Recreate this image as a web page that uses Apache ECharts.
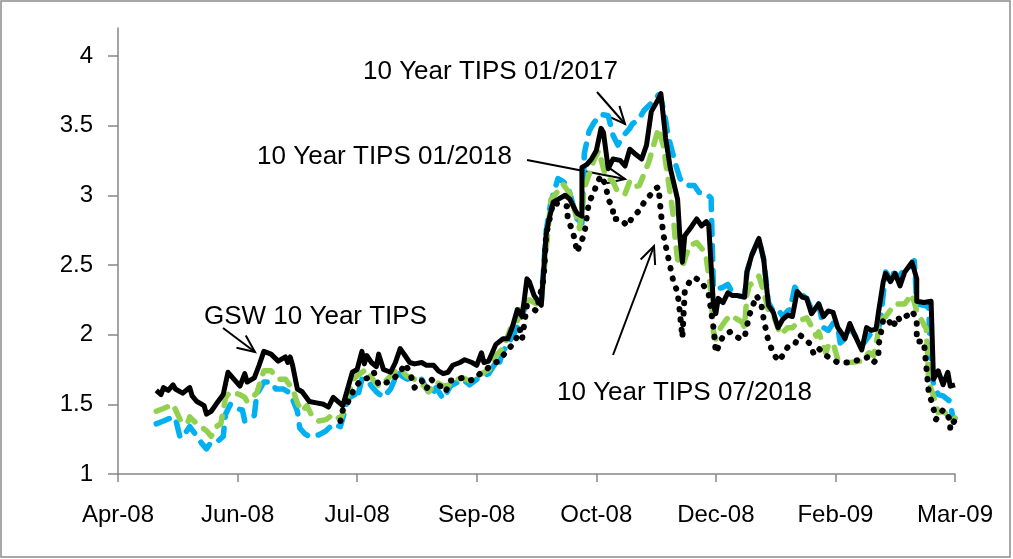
<!DOCTYPE html>
<html>
<head>
<meta charset="utf-8">
<script src="https://cdn.jsdelivr.net/npm/echarts@6/dist/echarts.min.js"></script>
<style>
  html, body { margin: 0; padding: 0; background: #fff; }
  #chart { width: 1013px; height: 559px; }
</style>
</head>
<body>
<div id="chart"></div>
<script>
// x = days counted from 12 Apr 2008, one tick every 50 days
var tickLabels = ['Apr-08', 'Jun-08', 'Jul-08', 'Sep-08', 'Oct-08', 'Dec-08', 'Feb-09', 'Mar-09'];
var yTicks = [1, 1.5, 2, 2.5, 3, 3.5, 4];

// GSW 10 Year TIPS (black solid)
var gswTips = [
  [16,1.60],[18,1.57],[19,1.62],[21,1.60],[23,1.64],[24,1.61],[27,1.58],[30,1.62],[31,1.56],[33,1.52],
  [36,1.49],[37,1.43],[39,1.45],[41,1.50],[44,1.57],[46,1.73],[48,1.69],[51,1.63],[53,1.72],[54,1.66],
  [57,1.69],[59,1.78],[61,1.88],[64,1.86],[67,1.81],[70,1.84],[71,1.80],[72,1.84],[73,1.78],[75,1.61],
  [77,1.59],[80,1.52],[83,1.51],[86,1.50],[88,1.48],[90,1.55],[92,1.52],[94,1.49],[96,1.61],[98,1.73],
  [100,1.75],[102,1.88],[103,1.79],[104,1.85],[106,1.80],[108,1.77],[109,1.86],[111,1.75],[114,1.73],[116,1.80],
  [118,1.90],[120,1.85],[122,1.80],[124,1.79],[127,1.80],[129,1.78],[132,1.78],[134,1.74],[136,1.72],[138,1.73],
  [140,1.78],[143,1.80],[145,1.82],[148,1.80],[150,1.78],[152,1.87],[153,1.80],[155,1.81],[158,1.93],[161,1.97],
  [163,1.97],[165,2.06],[167,2.18],[169,2.13],[171,2.40],[172,2.38],[174,2.28],[177,2.21],[179,2.71],[180,2.81],
  [182,2.95],[184,2.97],[187,3.00],[189,2.97],[191,2.90],[192,2.87],[194,2.85],[194,3.20],[196,3.22],[198,3.26],
  [200,3.32],[202,3.48],[203,3.45],[205,3.19],[207,3.26],[210,3.25],[212,3.21],[214,3.33],[216,3.30],[219,3.26],
  [221,3.36],[223,3.60],[226,3.69],[227,3.73],[229,3.41],[231,3.19],[234,2.97],[235,2.69],[236,2.52],[237,2.71],
  [240,2.78],[242,2.83],[244,2.78],[246,2.81],[247,2.79],[249,2.21],[250,2.15],[251,2.26],[253,2.23],[255,2.30],
  [257,2.28],[259,2.28],[262,2.27],[263,2.45],[265,2.57],[268,2.69],[270,2.54],[272,2.21],[274,2.16],[276,2.05],
  [278,2.11],[280,2.14],[282,2.13],[284,2.31],[286,2.27],[288,2.26],[290,2.15],[293,2.22],[295,2.13],[297,2.17],
  [299,2.16],[301,2.05],[303,2.00],[304,1.97],[306,2.08],[308,2.00],[311,1.89],[313,2.05],[315,2.03],[317,2.04],
  [318,2.16],[320,2.38],[321,2.44],[323,2.38],[325,2.44],[327,2.35],[329,2.45],[332,2.52],[334,2.40],[334,2.24],
  [337,2.23],[340,2.24],[341,1.68],[343,1.74],[345,1.64],[347,1.73],[348,1.63],[350,1.64]
];

// 10 Year TIPS 01/2017 (blue dashed)
var tips2017 = [
  [16,1.36],[19,1.38],[23,1.41],[24,1.40],[26,1.26],[28,1.29],[30,1.34],[33,1.27],[35,1.22],[37,1.18],
  [39,1.23],[42,1.24],[44,1.27],[45,1.43],[47,1.50],[49,1.47],[52,1.46],[53,1.38],[55,1.40],[57,1.42],
  [58,1.57],[61,1.66],[64,1.66],[66,1.61],[69,1.61],[72,1.58],[75,1.45],[76,1.33],[78,1.29],[80,1.27],
  [84,1.28],[87,1.31],[90,1.36],[93,1.34],[95,1.46],[96,1.54],[99,1.57],[100,1.54],[102,1.68],[104,1.68],
  [106,1.63],[108,1.59],[111,1.55],[114,1.61],[117,1.73],[119,1.70],[121,1.68],[123,1.69],[125,1.67],[127,1.68],
  [129,1.61],[131,1.56],[133,1.62],[136,1.54],[139,1.63],[142,1.66],[144,1.68],[147,1.64],[150,1.68],[152,1.70],
  [155,1.72],[158,1.80],[159,1.77],[161,1.88],[163,1.93],[166,2.02],[168,2.10],[171,2.23],[174,2.25],[177,2.23],
  [179,2.74],[181,2.95],[184,3.12],[186,3.10],[188,3.07],[190,2.95],[192,2.83],[194,2.80],[195,3.30],[197,3.46],
  [199,3.52],[202,3.58],[205,3.57],[207,3.43],[209,3.36],[211,3.42],[214,3.48],[215,3.51],[218,3.55],[220,3.61],
  [223,3.66],[226,3.72],[227,3.70],[229,3.54],[230,3.43],[233,3.23],[235,3.12],[237,3.08],[239,3.07],[241,3.07],
  [243,3.02],[246,3.01],[248,2.98],[249,2.33],[251,2.33],[253,2.34],[255,2.36],[257,2.30],[259,2.28],[262,2.27],
  [263,2.45],[265,2.57],[268,2.69],[270,2.54],[272,2.23],[274,2.17],[276,2.18],[278,2.13],[280,2.17],[281,2.18],
  [283,2.34],[285,2.30],[288,2.26],[290,2.18],[293,2.22],[295,2.05],[297,2.03],[299,2.08],[301,2.05],[302,1.94],
  [304,1.97],[306,2.05],[308,2.00],[311,1.92],[314,1.99],[316,2.03],[318,2.04],[319,2.13],[321,2.45],[323,2.40],
  [324,2.45],[326,2.40],[328,2.45],[331,2.48],[333,2.53],[334,2.22],[337,2.21],[339,2.20],[340,1.73],[341,1.65],
  [343,1.57],[345,1.56],[348,1.52],[349,1.41],[350,1.40]
];

// 10 Year TIPS 01/2018 (green dashed)
var tips2018Jan = [
  [16,1.45],[19,1.47],[23,1.50],[26,1.39],[29,1.36],[30,1.41],[33,1.36],[37,1.31],[39,1.27],[41,1.34],
  [43,1.36],[45,1.55],[47,1.59],[51,1.57],[53,1.55],[54,1.52],[58,1.58],[61,1.74],[64,1.74],[67,1.68],
  [70,1.68],[73,1.61],[75,1.51],[77,1.45],[79,1.49],[81,1.42],[84,1.38],[87,1.39],[90,1.43],[93,1.39],
  [95,1.49],[96,1.56],[99,1.69],[102,1.73],[104,1.75],[106,1.69],[109,1.63],[112,1.67],[115,1.72],[117,1.75],
  [119,1.73],[121,1.70],[123,1.69],[126,1.66],[128,1.63],[130,1.59],[133,1.66],[136,1.63],[139,1.64],[142,1.68],
  [144,1.69],[147,1.67],[150,1.70],[153,1.73],[156,1.76],[158,1.85],[161,1.90],[164,2.04],[167,2.10],[169,2.21],
  [172,2.25],[175,2.22],[177,2.25],[179,2.60],[181,2.97],[184,3.03],[186,3.08],[189,3.01],[192,2.83],[193,2.76],
  [195,3.05],[197,3.15],[199,3.25],[201,3.32],[204,3.13],[207,3.10],[209,3.02],[212,3.01],[214,3.10],[216,3.06],
  [218,3.07],[222,3.24],[223,3.30],[226,3.48],[228,3.36],[230,3.12],[232,2.88],[233,2.69],[234,2.54],[236,2.49],
  [239,2.64],[242,2.66],[245,2.60],[246,2.55],[248,2.30],[249,2.02],[250,1.97],[252,2.05],[254,2.10],[256,2.14],
  [259,2.11],[261,2.09],[262,2.05],[263,2.29],[264,2.35],[268,2.42],[270,2.31],[272,2.17],[274,2.14],[277,2.00],
  [280,2.05],[282,2.05],[285,2.10],[288,2.12],[290,2.06],[292,1.99],[293,2.02],[296,1.87],[297,1.92],[299,1.94],
  [301,1.82],[302,1.81],[306,1.80],[311,1.81],[314,1.87],[316,1.85],[319,2.11],[321,2.13],[325,2.22],[329,2.22],
  [332,2.29],[334,2.17],[338,2.04],[339,1.66],[341,1.56],[343,1.44],[345,1.45],[348,1.41],[349,1.38],[350,1.40]
];

// 10 Year TIPS 07/2018 (black dotted)
var tips2018Jul = [
  [93,1.38],[94,1.46],[96,1.51],[99,1.62],[102,1.68],[105,1.69],[107,1.73],[109,1.64],[113,1.66],[115,1.68],
  [118,1.73],[120,1.79],[122,1.73],[124,1.62],[127,1.67],[129,1.61],[131,1.68],[133,1.64],[135,1.63],[137,1.59],
  [139,1.67],[142,1.68],[144,1.69],[147,1.67],[149,1.68],[152,1.73],[154,1.75],[156,1.78],[159,1.81],[163,1.89],
  [166,1.95],[168,2.04],[169,1.97],[171,2.21],[175,2.17],[178,2.40],[179,2.71],[182,2.95],[185,2.93],[188,2.92],
  [188,2.83],[190,2.75],[191,2.68],[192,2.59],[193,2.64],[195,2.72],[197,2.96],[199,3.01],[200,3.08],[202,3.14],
  [204,3.07],[205,2.97],[207,2.91],[207,2.83],[210,2.83],[213,2.78],[215,2.84],[218,2.89],[220,2.95],[223,3.01],
  [225,3.05],[226,3.06],[227,2.88],[228,2.72],[230,2.56],[231,2.48],[232,2.40],[234,2.30],[235,2.15],[236,1.98],
  [237,2.31],[239,2.38],[241,2.41],[244,2.38],[247,2.29],[249,2.05],[250,1.87],[253,1.99],[256,2.02],[260,1.97],
  [262,1.98],[264,2.14],[267,2.28],[269,2.22],[270,2.11],[272,1.95],[274,1.87],[276,1.81],[278,1.85],[280,1.91],
  [283,1.93],[285,2.00],[289,1.94],[291,1.86],[293,1.90],[296,1.85],[299,1.82],[301,1.80],[306,1.80],[314,1.84],
  [316,1.80],[318,1.84],[318,1.92],[319,2.01],[320,2.11],[322,2.11],[324,2.05],[326,2.13],[327,2.10],[331,2.15],
  [332,2.17],[334,2.11],[334,1.95],[337,1.95],[339,1.59],[341,1.47],[342,1.39],[345,1.46],[348,1.39],[348,1.32],
  [350,1.39]
];

var chart = echarts.init(document.getElementById('chart'));

var FONT = 'Liberation Sans';

// 箭头: 直线 + 开口箭头
function arrow(x1, y1, x2, y2) {
    var ang = Math.atan2(y2 - y1, x2 - x1);
    var len = 19, spread = 0.42;
    var a1 = [x2 - len * Math.cos(ang - spread), y2 - len * Math.sin(ang - spread)];
    var a2 = [x2 - len * Math.cos(ang + spread), y2 - len * Math.sin(ang + spread)];
    return {
        type: 'group',
        children: [
            {type: 'line', shape: {x1: x1, y1: y1, x2: x2, y2: y2}, style: {stroke: '#000', lineWidth: 2}},
            {type: 'polyline', shape: {points: [a1, [x2, y2], a2]}, style: {stroke: '#000', lineWidth: 2, fill: null}}
        ]
    };
}

function note(text, x, y, align) {
    return {
        type: 'text', x: x, y: y,
        style: {text: text, font: '26px "' + FONT + '"', fill: '#000', align: align, verticalAlign: 'middle'}
    };
}

var option = {
    backgroundColor: '#fff',
    animation: false,
    grid: {left: 118, right: 58, top: 28, bottom: 85},
    xAxis: {
        type: 'value',
        min: 0, max: 350, interval: 50,
        splitLine: {show: false},
        axisLine: {lineStyle: {color: '#868686', width: 1.5}},
        axisTick: {show: true, length: 8, lineStyle: {color: '#868686', width: 1.5}},
        axisLabel: {
            color: '#000', fontFamily: FONT, fontSize: 24, margin: 29,
            formatter: function (v) { return tickLabels[Math.round(v / 50)] || ''; }
        }
    },
    yAxis: {
        type: 'value',
        min: 1, max: 4.2,
        splitLine: {show: false},
        axisLine: {show: true, lineStyle: {color: '#868686', width: 1.5}},
        axisTick: {show: true, length: 10, customValues: yTicks, lineStyle: {color: '#868686', width: 1.5}},
        axisLabel: {color: '#000', fontFamily: FONT, fontSize: 24, margin: 25, customValues: yTicks}
    },
    series: [
        {
            name: '10 Year TIPS 01/2017', type: 'line', data: tips2017, showSymbol: false, z: 2,
            lineStyle: {color: '#00b0f0', width: 5.5, type: [14, 11], cap: 'round', join: 'round'}
        },
        {
            name: '10 Year TIPS 01/2018', type: 'line', data: tips2018Jan, showSymbol: false, z: 3,
            lineStyle: {color: '#92d050', width: 5.5, type: [12, 11], cap: 'round', join: 'round'}
        },
        {
            name: '10 Year TIPS 07/2018', type: 'line', data: tips2018Jul, showSymbol: false, z: 4,
            lineStyle: {color: '#000', width: 6, type: [0.5, 10], cap: 'round', join: 'round'}
        },
        {
            name: 'GSW 10 Year TIPS', type: 'line', data: gswTips, showSymbol: false, z: 5,
            lineStyle: {color: '#000', width: 5, join: 'round'}
        }
    ],
    graphic: [
        {type: 'rect', shape: {x: 1, y: 1, width: 1009, height: 556}, style: {fill: null, stroke: '#8c8c8c', lineWidth: 1.5}, z: -1},
        note('10 Year TIPS 01/2017', 363, 72, 'left'),
        note('10 Year TIPS 01/2018', 512, 157, 'right'),
        note('GSW 10 Year TIPS', 204, 317, 'left'),
        note('10 Year TIPS 07/2018', 557, 393, 'left'),
        arrow(597, 92, 625, 124),
        arrow(527, 160, 625, 179),
        arrow(223, 328, 255, 352),
        arrow(613, 355, 654, 246)
    ]
};

chart.setOption(option);
</script>
</body>
</html>
